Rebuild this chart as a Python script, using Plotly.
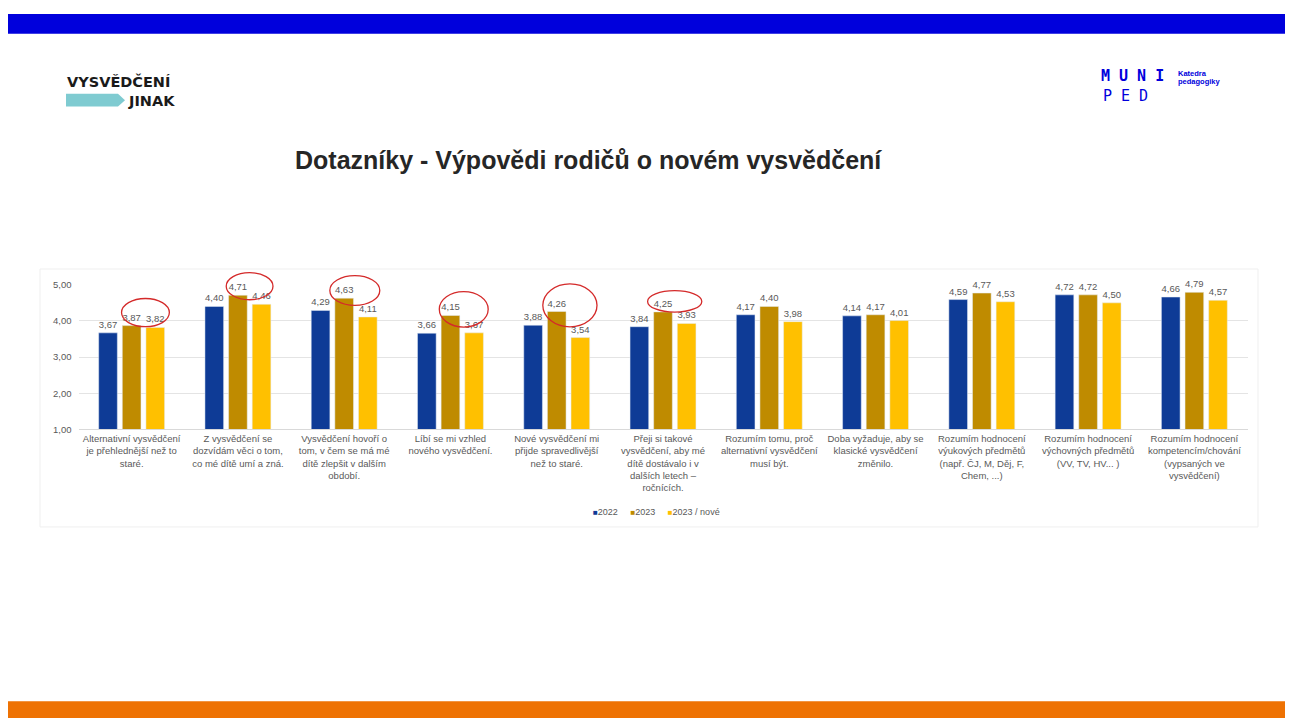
import plotly.graph_objects as go

categories = [
    "Alternativní vysvědčení<br>je přehlednější než to<br>staré.",
    "Z vysvědčení se<br>dozvídám věci o tom,<br>co mé dítě umí a zná.",
    "Vysvědčení hovoří o<br>tom, v čem se má mé<br>dítě zlepšit v dalším<br>období.",
    "Líbí se mi vzhled<br>nového vysvědčení.",
    "Nové vysvědčení mi<br>přijde spravedlivější<br>než to staré.",
    "Přeji si takové<br>vysvědčení, aby mé<br>dítě dostávalo i v<br>dalších letech –<br>ročnících.",
    "Rozumím tomu, proč<br>alternativní vysvědčení<br>musí být.",
    "Doba vyžaduje, aby se<br>klasické vysvědčení<br>změnilo.",
    "Rozumím hodnocení<br>výukových předmětů<br>(např. ČJ, M, Děj, F,<br>Chem, ...)",
    "Rozumím hodnocení<br>výchovných předmětů<br>(VV, TV, HV... )",
    "Rozumím hodnocení<br>kompetencím/chování<br>(vypsaných ve<br>vysvědčení)",
]
series_names = ["2022", "2023", "2023 / nové"]
values_2022 = [3.67, 4.40, 4.29, 3.66, 3.88, 3.84, 4.17, 4.14, 4.59, 4.72, 4.66]
values_2023 = [3.87, 4.71, 4.63, 4.15, 4.26, 4.25, 4.40, 4.17, 4.77, 4.72, 4.79]
values_2023_nove = [3.82, 4.46, 4.11, 3.67, 3.54, 3.93, 3.98, 4.01, 4.53, 4.50, 4.57]
y_ticks = [1, 2, 3, 4, 5]
title_text = "Dotazníky - Výpovědi rodičů o novém vysvědčení"

colors = ["#0E3B96", "#BF8B00", "#FFC000"]
FONT = "Liberation Sans, Arial, sans-serif"
GREY = "#595959"

W, H = 1277, 710


def px(x):
    return (x - 8) / W


def py(y):
    return 1 - (y - 8) / H


XD = [px(78.5), px(1247.5)]
YD = [py(430), py(283)]
YR = [1, 5]


def data_to_paper_x(i):
    return XD[0] + (i + 0.5) / len(categories) * (XD[1] - XD[0])


def data_to_paper_y(v):
    return YD[0] + (v - YR[0]) / (YR[1] - YR[0]) * (YD[1] - YD[0])


fig = go.Figure()
x_idx = list(range(len(categories)))
for name, vals, col in zip(series_names, [values_2022, values_2023, values_2023_nove], colors):
    fig.add_trace(go.Bar(
        name=name, x=x_idx, y=vals, marker_color=col,
        text=[f"{v:.2f}".replace(".", ",") for v in vals],
        textposition="outside", constraintext="none", cliponaxis=False,
        textfont=dict(size=9.5, color=GREY, family=FONT),
    ))

# hand-drawn red ellipses: (group index, dx, dy above 2023 value, width, height)
circles = [(0, 0.13, 0.36, 0.45, 0.78), (1, 0.11, 0.25, 0.44, 0.75), (2, 0.10, 0.21, 0.47, 0.82),
           (3, 0.125, 0.17, 0.46, 0.98), (4, 0.124, 0.17, 0.51, 1.19), (5, 0.11, 0.29, 0.51, 0.59)]
shapes = []
for gi, dx, dy, w, h in circles:
    cx = gi + dx
    cy = values_2023[gi] + dy
    shapes.append(dict(type="circle", xref="paper", yref="paper",
                       x0=data_to_paper_x(cx - w / 2), x1=data_to_paper_x(cx + w / 2),
                       y0=data_to_paper_y(cy - h / 2), y1=data_to_paper_y(cy + h / 2),
                       line=dict(color="#D42A2A", width=1.3), layer="above"))

# page decorations
shapes += [
    dict(type="rect", xref="paper", yref="paper", x0=0, x1=1, y0=py(8), y1=py(28),
         fillcolor="#0000DC", line=dict(width=0), layer="below"),
    dict(type="rect", xref="paper", yref="paper", x0=0, x1=1, y0=py(706), y1=py(730),
         fillcolor="#EE7203", line=dict(width=0), layer="below"),
    dict(type="rect", xref="paper", yref="paper", x0=px(40), x1=px(1258), y0=py(529), y1=py(267),
         fillcolor="rgba(0,0,0,0)", line=dict(color="#EFEFEF", width=1), layer="below"),
    dict(type="path", xref="paper", yref="paper",
         path=f"M {px(66)} {py(89)} L {px(118)} {py(89)} L {px(125)} {py(95.5)} L {px(118)} {py(102)} L {px(66)} {py(102)} Z",
         fillcolor="#7FCBD1", line=dict(width=0), layer="below"),
]

SP = "&nbsp;" * 5
legend_text = SP.join(
    f'<span style="color:{c}; font-size:8px">■</span>{n}' for n, c in zip(series_names, colors)
)

annotations = [
    dict(text="<b>" + title_text + "</b>", xref="paper", yref="paper", x=px(588.5), y=py(156),
         xanchor="center", yanchor="middle", showarrow=False, font=dict(size=25, color="#262626", family=FONT)),
    dict(text="<b>VYSVĚDČENÍ</b>", xref="paper", yref="paper", x=px(65), y=py(77),
         xanchor="left", yanchor="middle", showarrow=False, font=dict(size=14.5, color="#1a1a1a", family="DejaVu Sans")),
    dict(text="<b>JINAK</b>", xref="paper", yref="paper", x=px(126), y=py(96),
         xanchor="left", yanchor="middle", showarrow=False, font=dict(size=14.5, color="#1a1a1a", family="DejaVu Sans")),
    dict(text="<b>M U N I</b>", xref="paper", yref="paper", x=px(1099), y=py(71),
         xanchor="left", yanchor="middle", showarrow=False, font=dict(size=15, color="#0000DC", family="DejaVu Sans Mono")),
    dict(text="P E D", xref="paper", yref="paper", x=px(1101), y=py(91),
         xanchor="left", yanchor="middle", showarrow=False, font=dict(size=15, color="#0000DC", family="DejaVu Sans Mono")),
    dict(text="<b>Katedra</b>", xref="paper", yref="paper", x=px(1176), y=py(68),
         xanchor="left", yanchor="middle", showarrow=False, font=dict(size=7.5, color="#0000DC", family=FONT)),
    dict(text="<b>pedagogiky</b>", xref="paper", yref="paper", x=px(1176), y=py(77),
         xanchor="left", yanchor="middle", showarrow=False, font=dict(size=7.5, color="#0000DC", family=FONT)),
    dict(text=legend_text, xref="paper", yref="paper", x=px(656), y=py(514),
         xanchor="center", yanchor="middle", showarrow=False, font=dict(size=9, color=GREY, family=FONT)),
]

fig.update_layout(
    width=W, height=H,
    margin=dict(l=0, r=0, t=0, b=0),
    paper_bgcolor="white", plot_bgcolor="white",
    separators=", ",
    barmode="group", bargap=0.333, bargroupgap=0.21,
    font=dict(family=FONT, color=GREY, size=9),
    showlegend=False,
    xaxis=dict(domain=XD, tickmode="array", tickvals=x_idx, ticktext=categories,
               tickangle=0, showgrid=False, showline=True, linecolor="#D9D9D9", ticks="",
               tickfont=dict(size=9.5, color=GREY, family=FONT), range=[-0.5, len(categories) - 0.5]),
    yaxis=dict(domain=YD, range=YR, tickvals=y_ticks, tickformat=".2f",
               showgrid=True, gridcolor="#E4E4E4", zeroline=False, showline=False, ticks="",
               tickfont=dict(size=9.5, color=GREY, family=FONT), ticklabelstandoff=6),
    shapes=shapes, annotations=annotations,
)

fig.write_html("out.html")
